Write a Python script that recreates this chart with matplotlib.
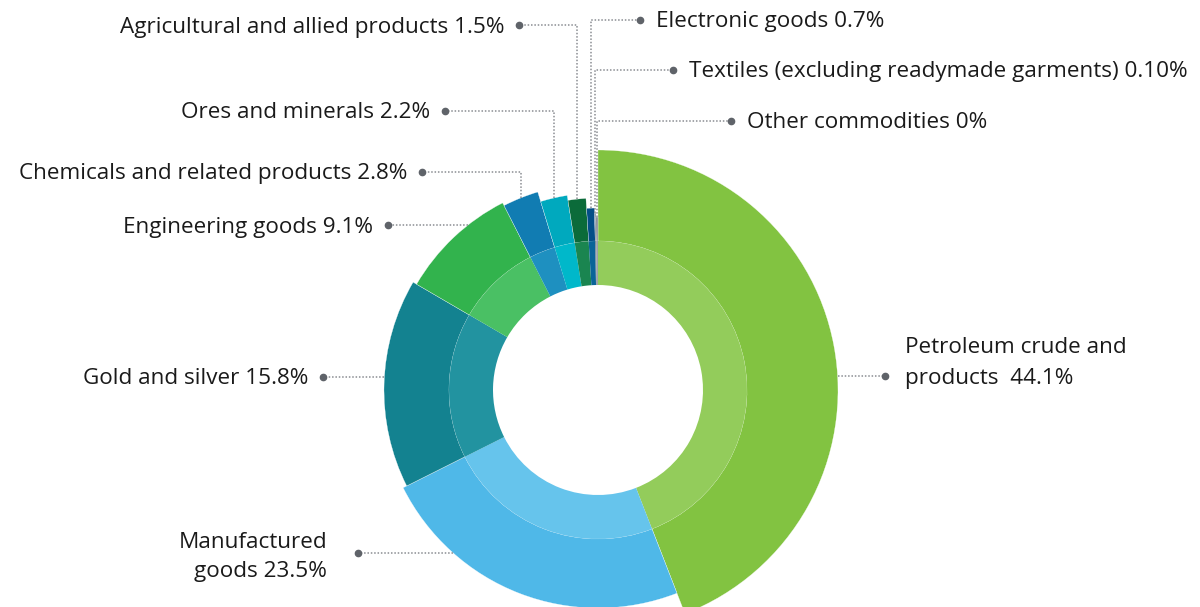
import numpy as np
import matplotlib
matplotlib.use("Agg")
from matplotlib import pyplot as plt
from matplotlib.patches import Wedge

plt.rcParams['font.family'] = ['Open Sans', 'DejaVu Sans']

# data (clockwise from 12 o'clock)
categories = ["Petroleum crude and\nproducts  44.1%", "Manufactured\ngoods 23.5%",
              "Gold and silver 15.8%", "Engineering goods 9.1%",
              "Chemicals and related products 2.8%", "Ores and minerals 2.2%",
              "Agricultural and allied products 1.5%", "Electronic goods 0.7%",
              "Textiles (excluding readymade garments) 0.10%", "Other commodities 0%"]
shares = [44.1, 23.5, 15.8, 9.1, 2.8, 2.2, 1.5, 0.7, 0.1, 0.2]
outer_r = [240, 218, 214, 210, 207, 197, 192, 182, 177, 173]
colors = ["#82c341", "#4fb8e8", "#138290", "#32b34d", "#117cb2",
          "#00a9be", "#0b6b3a", "#034e87", "#56687c", "#8a9099"]
light = ["#93cc5b", "#66c4ec", "#2293a0", "#4ac064", "#1e90c0",
         "#00b8ca", "#1a8550", "#0a6498", "#6b7b8c", "#9ca1a8"]

# label layout: label y and dot x
label_y = [376, 553, 377, 225, 172, 111, 25, 20, 70, 121]
dot_x = [885, 358, 323, 388, 422, 445, 519, 640, 673, 731]

cx, cy = 598, 390
hole, ring = 105, 149

fig = plt.figure(figsize=(12, 6.07), dpi=100)
ax = fig.add_axes([0, 0, 1, 1])
ax.set_xlim(0, 1200)
ax.set_ylim(607, 0)
ax.set_aspect('equal')
ax.axis('off')

# y axis is inverted, so increasing theta = clockwise on screen; top = -90
fr = np.cumsum([0] + shares) / sum(shares)
for i in range(len(shares)):
    t1 = -90 + 360 * fr[i]
    t2 = -90 + 360 * fr[i + 1]
    ax.add_patch(Wedge((cx, cy), outer_r[i], t1, t2, width=outer_r[i] - ring,
                       facecolor=colors[i], edgecolor='white', linewidth=0.2))
    ax.add_patch(Wedge((cx, cy), ring, t1, t2, width=ring - hole,
                       facecolor=light[i], edgecolor='none'))

fs = 16.2
tc = '#1a1a1a'
line_kw = dict(color='#8a8d92', linewidth=1.1, linestyle=(0, (1, 1.2)))
for i, lab in enumerate(categories):
    y = label_y[i]
    r = outer_r[i]
    if i <= 3:
        dx = np.sqrt(r ** 2 - (y - cy) ** 2)
        ex = cx + dx if i == 0 else cx - dx
        ax.plot([ex, dot_x[i]], [y, y], **line_kw)
    else:
        mid = np.deg2rad(-90 + 360 * (fr[i] + fr[i + 1]) / 2)
        ex = cx + r * np.cos(mid)
        ey = cy + r * np.sin(mid)
        ax.plot([ex, ex, dot_x[i]], [ey, y, y], **line_kw)
    ax.plot(dot_x[i], y, 'o', color='#5f6369', markersize=4.5)
    ty = y + 2
    if i == 0:
        ax.text(dot_x[i] + 20, ty - 15, lab, fontsize=fs, color=tc,
                ha='left', va='center', linespacing=1.68)
    elif i == 1:
        ax.text(dot_x[i] - 31, ty + 2, lab, fontsize=fs, color=tc,
                ha='right', va='center', linespacing=1.48, multialignment='right')
    elif dot_x[i] > cx:
        ax.text(dot_x[i] + 16, ty, lab, fontsize=fs, color=tc,
                ha='left', va='center')
    else:
        ax.text(dot_x[i] - 15, ty, lab, fontsize=fs, color=tc,
                ha='right', va='center')

plt.savefig("out.png", dpi=100)
